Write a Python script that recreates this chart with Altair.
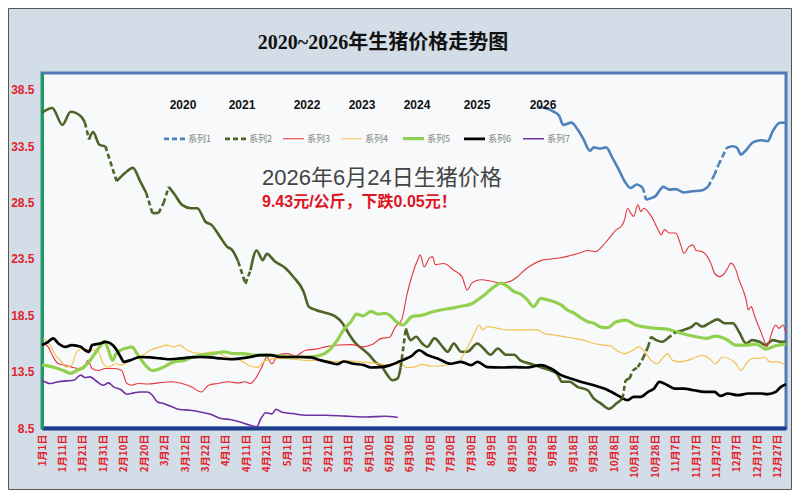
import json
import altair as alt
import pandas as pd

# ---------------- data ----------------
series_names = ["系列1", "系列2", "系列3", "系列4", "系列5", "系列6", "系列7"]
year_labels = ["2020", "2021", "2022", "2023", "2024", "2025", "2026"]
tick_labels = ["1月1日", "1月11日", "1月21日", "1月31日", "2月10日", "2月20日", "3月2日",
               "3月12日", "3月22日", "4月1日", "4月11日", "4月21日", "5月1日", "5月11日",
               "5月21日", "5月31日", "6月10日", "6月20日", "6月30日", "7月10日", "7月20日",
               "7月30日", "8月9日", "8月19日", "8月29日", "9月8日", "9月18日", "9月28日",
               "10月8日", "10月18日", "10月28日", "11月7日", "11月17日", "11月27日",
               "12月7日", "12月17日", "12月27日"]
tick_days = list(range(0, 361, 10))
y_ticks = [8.5, 13.5, 18.5, 23.5, 28.5, 33.5, 38.5]

# 系列1 (2020)
s1_day = [243, 250, 253, 255, 259, 262, 265, 268, 270, 273, 276, 279, 282, 285, 288, 291, 294,
          295.5, 298, 300, 304, 307, 310, 314, 318, 323, 326, 329, 331, 333, 335, 338, 340, 342,
          344, 348, 352, 355, 357.5, 361, 364]
s1_val = [37.0, 36.6, 36.2, 35.4, 35.6, 35.0, 34.1, 33.1, 33.4, 33.3, 33.4, 32.5, 31.5, 30.4,
          29.8, 30.1, 29.8, 28.75, 28.9, 29.05, 29.9, 29.65, 29.7, 29.4, 29.5, 29.6, 29.94, 30.98,
          31.87, 32.6, 33.36, 33.5, 33.36, 32.76, 33.06, 33.86, 34.03, 33.95, 34.83, 35.58, 35.6]
s1_gap_starts = [294, 326, 329, 331, 333]

# 系列2 (2021)
s2_day = [0, 5, 10, 14, 19, 21, 23, 25, 28, 31, 36.5, 40.5, 44.5, 48, 51, 54, 57, 59.5, 62, 65,
          68.5, 73, 76, 80, 83, 87, 90.5, 93, 96, 99.5, 102, 105, 108, 110, 114, 119, 123, 128,
          130.5, 134, 139, 143.5, 147, 150, 153.5, 156.5, 160, 163, 166.5, 169, 171.5, 174, 175.5,
          178, 180.5, 183, 186, 188.5, 192, 196, 198.5, 201.5, 205, 208, 213, 216, 219.5, 223, 227,
          231, 234, 239, 244, 249, 252, 254.5, 258, 262, 267, 270, 273.5, 277.5, 281, 284, 285.5,
          287.5, 289, 291.5, 294, 296.5, 298, 300.5, 303.5, 306, 310, 314, 318, 320, 323, 326.5,
          330.5, 334, 338, 341, 344.5, 347.5, 351, 354, 357.5, 361.5, 364]
s2_val = [36.47, 36.9, 35.4, 36.56, 36.17, 35.6, 34.1, 34.75, 33.65, 33.5,
          30.4, 31.1, 31.58, 30.4, 29.35, 27.57, 27.57, 28.46, 29.9, 29.2,
          28.3, 28.0, 28.0, 26.8, 26.5, 25.5, 24.6, 24.3, 23.27, 21.3,
          22.5, 24.25, 23.4, 23.95, 23.27, 22.7, 21.9, 20.6, 19.27, 18.97,
          18.7, 18.4, 17.8, 16.9, 16.0, 15.56, 15.0, 14.37, 13.9, 13.19,
          12.74, 12.9, 13.9, 17.34, 16.3, 16.6, 16.0, 15.7, 16.45, 15.7,
          15.26, 16.0, 15.26, 15.26, 16.0, 15.56, 15.0, 15.56, 15.0, 15.0,
          14.5, 14.2, 13.9, 13.6, 13.3, 12.6, 12.6, 12.15, 11.85, 11.1,
          10.67, 10.2, 10.67, 11.1, 12.74, 12.9, 13.6, 13.9, 14.67, 15.7,
          16.6, 16.3, 16.15, 16.45, 17.0, 17.2, 17.5, 17.8, 17.5, 17.8,
          18.14, 17.8, 17.8, 17.04, 16.0, 16.3, 16.15, 15.86, 16.3, 16.15,
          16.15]
s2_gap_starts = [21, 31, 51, 57, 59.5, 96, 99.5, 175.5, 284, 285.5, 287.5, 289, 291.5, 294,
                 296.5, 306]

# 系列3 (2022)
s3_day = [0.5, 3, 5.5, 8, 11, 14.5, 18, 21, 22.5, 24.5, 27.5, 31, 35.5, 39, 41.5, 44, 47, 52,
          57, 63.5, 68.5, 73, 78, 81.5, 86, 91, 96, 99.5, 102, 105, 107.5, 110, 112.5, 115.5, 120,
          124, 129, 134, 138.5, 145, 151.5, 156.5, 161.5, 166, 170, 173, 176, 178.5, 181.5, 184,
          185, 187, 189.5, 191, 192.5, 196.5, 201.5, 205.5, 208, 210.5, 214.5, 219.5, 224.5,
          229.5, 232.5, 236, 239, 244, 249, 254, 258.5, 263.5, 267, 271, 274, 277.5, 281, 283.5,
          285, 286.5, 288, 289.5, 291.5, 293, 294.5, 297, 299.5, 301, 303, 304.5, 307, 310,
          312.5, 314, 316.5, 318.5, 320, 323, 325.5, 327.5, 329, 331.5, 334, 335.5, 337, 339.5,
          341, 343, 344.5, 345.5, 347, 348.5, 350, 352, 353.5, 354.5, 356, 357.5, 359, 360.5,
          362.5, 364]
s3_val = [16.0, 15.7, 14.8, 14.2, 14.08, 13.9, 13.78, 14.08, 14.5, 13.78,
          13.6, 13.78, 13.78, 13.6, 12.45, 12.3, 12.45, 12.4, 12.5, 12.6,
          12.45, 12.15, 11.7, 12.3, 12.45, 12.6, 12.5, 12.6, 12.45, 13.04,
          13.9, 14.8, 14.2, 15.0, 15.1, 14.9, 15.4, 15.5, 15.7, 15.86,
          15.9, 15.7, 15.9, 16.45, 16.55, 17.5, 18.1, 20.3, 22.3, 23.5,
          23.86, 22.8, 23.57, 23.71, 23.0, 23.1, 22.5, 21.93, 20.75, 21.4,
          21.65, 21.55, 21.35, 21.55, 21.9, 22.5, 22.9, 23.35, 23.5, 23.6,
          23.8, 24.05, 24.25, 24.15, 24.6, 25.35, 26.1, 26.4, 26.98, 28.0,
          27.57, 27.27, 28.3, 27.7, 28.0, 27.57, 26.83, 26.24, 25.64, 26.1,
          25.8, 25.8, 24.75, 24.0, 24.6, 24.75, 24.25, 24.15, 23.71, 23.0,
          22.24, 21.93, 22.24, 22.68, 23.13, 22.53, 21.64, 20.75, 19.86, 18.97,
          19.27, 18.53, 17.79, 16.9, 16.15, 15.7, 16.3, 17.2, 17.64, 17.34,
          17.64, 16.9]

# 系列4 (2023)
s4_day = [0.5, 4, 6.5, 9, 12, 14.5, 17, 20.5, 23.5, 27, 30, 32.5, 36, 39, 43, 48, 53, 58, 61,
          64.5, 67.5, 71, 77.5, 84, 90.5, 97, 102, 105.5, 109.5, 116.5, 123, 130, 136.5, 143,
          149.5, 156, 162.5, 169, 175.5, 178.5, 182, 186, 190, 195, 200, 204, 206.5, 210, 212,
          214, 215.5, 218, 223, 227.5, 235, 242.5, 245.5, 250.5, 255.5, 260.5, 265, 270, 275,
          278.5, 281, 285, 289, 292, 295.5, 298, 301, 303.5, 306, 308.5, 312, 316, 320, 323,
          326.5, 329.5, 333, 336, 339.5, 342, 344.5, 347.5, 351, 353.5, 356, 360, 363.5]
s4_val = [16.45, 15.86, 15.0, 14.5, 13.9, 14.08, 15.26, 15.56, 15.4, 15.4,
          14.2, 13.9, 14.2, 14.08, 14.5, 14.8, 15.4, 15.7, 15.86, 15.7,
          15.86, 15.4, 15.1, 15.26, 14.8, 14.5, 14.0, 13.9, 14.5, 14.67,
          14.6, 14.5, 14.5, 14.4, 14.45, 14.37, 14.25, 14.1, 14.2, 13.87,
          13.9, 14.15, 14.0, 14.0, 14.2, 14.4, 15.1, 16.3, 17.1, 17.64,
          17.2, 17.49, 17.34, 17.2, 17.2, 17.2, 16.9, 16.75, 16.6, 16.45,
          16.3, 16.0, 15.86, 15.75, 15.4, 15.1, 15.4, 15.7, 15.1, 14.5,
          14.2, 14.67, 15.1, 14.5, 14.37, 14.5, 14.8, 14.95, 14.67, 14.2,
          14.8, 14.67, 14.2, 13.6, 14.2, 14.67, 14.67, 14.8, 14.37, 14.37,
          14.08]

# 系列5 (2024)
s5_day = [0, 5.5, 10.5, 14, 17, 20.5, 23.5, 27, 29.5, 30.5, 32.5, 34.5, 36, 38.5, 41.5, 44,
          46.5, 50, 54, 59.5, 64.5, 69.5, 74, 79, 84, 89, 94, 98.5, 103.5, 110, 116.5, 123, 130,
          136.5, 140.5, 144.5, 147.5, 151, 154, 157, 161, 164.5, 168, 170.5, 173.5, 176.5, 181,
          186, 190, 195, 200, 205, 210, 213, 217, 221, 224.5, 227.5, 231, 234, 237.5, 240.5, 244,
          247.5, 250.5, 254, 257, 260.5, 263.5, 267, 270, 273.5, 276.5, 281, 285.5, 290.5, 295.5,
          300.5, 305, 310, 315, 320, 325, 329.5, 334.5, 339.5, 344.5, 349.5, 354, 359, 364]
s5_val = [14.1, 13.9, 13.6, 13.35, 13.6, 13.9, 14.5, 15.4, 16.0, 16.2,
          15.4, 14.5, 15.0, 15.4, 15.6, 15.7, 15.1, 14.2, 13.6, 13.9,
          14.37, 14.5, 14.8, 15.0, 15.1, 15.26, 15.1, 15.1, 14.97, 14.97,
          14.88, 14.8, 14.8, 14.97, 15.4, 16.3, 17.2, 17.9, 18.6, 18.45,
          18.85, 18.6, 18.68, 18.45, 17.9, 17.64, 18.38, 18.5, 18.75, 18.97,
          19.12, 19.3, 19.5, 19.86, 20.4, 21.0, 21.35, 21.1, 20.6, 20.4,
          19.86, 19.27, 20.0, 19.86, 19.71, 19.42, 18.97, 18.68, 18.3, 17.93,
          17.79, 17.45, 17.4, 17.93, 18.08, 17.64, 17.45, 17.34, 17.3, 17.04,
          16.8, 16.6, 16.45, 16.65, 16.4, 15.86, 15.86, 15.95, 15.5, 15.8,
          15.95]

# 系列6 (2025)
s6_day = [0, 3, 5.5, 8, 11.5, 14.5, 19, 21, 23, 24.5, 28.5, 31, 33.5, 36, 38.5, 40, 43, 48, 53,
          58, 63, 67.5, 72.5, 77.5, 82.5, 87.5, 92, 97, 102, 107, 112, 116.5, 121.5, 126.5,
          131.5, 136.5, 141, 144.5, 147.5, 152.5, 157.5, 161, 165.5, 170.5, 174.5, 178, 180.5,
          184.5, 188.5, 193.5, 200, 205, 210, 213, 218, 224.5, 231, 237.5, 244, 249, 254, 258.5,
          263.5, 270, 275, 280, 283, 286.5, 289.5, 293, 296.5, 299.5, 302, 306, 309.5, 314, 319,
          324, 329, 332, 335.5, 340.5, 345.5, 352, 355, 359, 361.5, 364]
s6_val = [15.86, 16.15, 16.45, 16.0, 15.7, 15.86, 15.7, 15.4, 15.26, 15.86,
          16.0, 16.15, 16.0, 15.56, 14.8, 14.37, 14.5, 14.8, 14.76, 14.67,
          14.6, 14.67, 14.76, 14.8, 14.76, 14.67, 14.6, 14.67, 14.8, 14.97,
          14.97, 14.8, 14.8, 14.8, 14.76, 14.5, 14.3, 14.17, 14.4, 14.2,
          14.08, 13.87, 13.9, 14.08, 14.37, 14.65, 14.85, 15.4, 14.97, 14.67,
          14.2, 14.37, 14.08, 14.37, 13.9, 13.87, 13.9, 13.87, 14.08, 13.78,
          13.19, 12.9, 12.6, 12.3, 12.0, 11.56, 11.26, 10.97, 11.26, 11.26,
          11.7, 12.0, 12.6, 12.3, 12.0, 12.0, 11.85, 11.7, 11.7, 11.35,
          11.56, 11.41, 11.56, 11.56, 11.5, 11.7, 12.15, 12.39]

# 系列7 (2026)
s7_day = [0, 4, 8, 12, 15.5, 19, 21, 23.5, 27, 30, 32.5, 35, 38.5, 41.5, 45, 48, 51.5, 54, 56.5,
          59.5, 63, 67.5, 72.5, 77.5, 82.5, 87.5, 92, 97, 102, 105, 107, 109.5, 112.5, 114.5,
          117.5, 122.5, 129, 138.5, 148.5, 158.5, 168, 172, 174]
s7_val = [12.74, 12.45, 12.6, 12.68, 12.74, 13.19, 12.98, 13.04, 12.6, 12.3,
          12.5, 12.15, 11.92, 11.5, 11.62, 11.7, 11.7, 11.41, 10.81, 10.67,
          10.43, 10.14, 10.08, 9.92, 9.72, 9.34, 9.25, 9.03, 8.74, 8.6,
          9.3, 9.85, 9.75, 10.15, 9.9, 9.78, 9.63, 9.63, 9.55, 9.48,
          9.54, 9.5, 9.43]

title_text = "2020~2026年生猪价格走势图"
note_text = "2026年6月24日生猪价格"
price_text = "9.43元/公斤，下跌0.05元！"

# ---------------- styles ----------------
colors = ["#4f81bd", "#4f6228", "#e3363d", "#f3c24f", "#92d050", "#000000", "#7030a0"]
widths = [2.6, 2.6, 1.1, 1.2, 3.2, 2.7, 1.6]
dashes = [[5, 3], [5, 3], [1, 0], [1, 0], [1, 0], [1, 0], [1, 0]]
red = "#e2222b"


def build(name, days, vals, gap_starts=()):
    solid, dashed = [], []
    seg = 0
    gs = set(gap_starts)
    for i, (d, v) in enumerate(zip(days, vals)):
        solid.append({"series": name, "seg": f"{name}-{seg}", "day": d, "value": v})
        if d in gs and i + 1 < len(days):
            gid = f"{name}-g{i}"
            dashed.append({"series": name, "seg": gid, "day": d, "value": v})
            dashed.append({"series": name, "seg": gid, "day": days[i + 1], "value": vals[i + 1]})
            seg += 1
    return solid, dashed


all_series = [
    (s1_day, s1_val, s1_gap_starts),
    (s2_day, s2_val, s2_gap_starts),
    (s3_day, s3_val, ()),
    (s4_day, s4_val, ()),
    (s5_day, s5_val, ()),
    (s6_day, s6_val, ()),
    (s7_day, s7_val, ()),
]
solid_rows, dashed_rows = [], []
for name, (d, v, g) in zip(series_names, all_series):
    s, dd = build(name, d, v, g)
    solid_rows += s
    dashed_rows += dd
solid_df = pd.DataFrame(solid_rows)
dashed_df = pd.DataFrame(dashed_rows)

labels_js = json.dumps(tick_labels, ensure_ascii=False)

legend = alt.Legend(
    orient="none", legendX=120, legendY=53, direction="horizontal", columns=7,
    title=None, symbolType="stroke", symbolSize=441, labelFont="Noto Sans CJK SC",
    labelFontSize=9, labelColor="#7f7f7f", labelOffset=1, columnPadding=8, padding=0,
)

x_enc = alt.X(
    "day:Q",
    scale=alt.Scale(domain=[0, 364], nice=False, zero=False),
    axis=alt.Axis(
        values=tick_days, labelExpr=f"{labels_js}[round(datum.value / 10)]",
        labelAngle=270, labelColor=red, labelFontSize=10, labelFont="Noto Sans CJK SC",
        labelFontWeight="bold", ticks=False, grid=False, domainColor="#1c3c8c",
        domainWidth=4, title=None, labelPadding=6, labelOverlap=False, labelFlush=False,
        labelBound=False,
    ),
)
y_enc = alt.Y(
    "value:Q",
    scale=alt.Scale(domain=[8.5, 40], nice=False, zero=False),
    axis=alt.Axis(
        values=y_ticks, format=".1f", labelColor=red, labelFontSize=12,
        labelFont="Liberation Sans", labelFontWeight="bold", ticks=False, grid=False,
        domainColor="#1aa05a", domainWidth=3, title=None, labelPadding=8,
    ),
)
color_enc = alt.Color("series:N", scale=alt.Scale(domain=series_names, range=colors), legend=legend)
width_enc = alt.StrokeWidth(
    "series:N", scale=alt.Scale(type="ordinal", domain=series_names, range=widths), legend=legend
)
dash_enc = alt.StrokeDash("series:N", scale=alt.Scale(domain=series_names, range=dashes), legend=legend)

solid_layer = alt.Chart(solid_df).mark_line(interpolate="monotone").encode(
    x=x_enc, y=y_enc, color=color_enc, strokeWidth=width_enc, detail="seg:N"
)
dashed_layer = alt.Chart(dashed_df).mark_line().encode(
    x=x_enc, y=y_enc, color=color_enc, strokeWidth=width_enc, strokeDash=dash_enc, detail="seg:N"
)


def text_layer(txt, x, y, **kw):
    return alt.Chart(alt.Data(values=[{}])).mark_text(text=txt, **kw).encode(
        x=alt.value(x), y=alt.value(y)
    )


year_x = [141, 200, 265, 320, 375, 435, 501]
texts = [
    text_layer(yl, xx, 32, font="Liberation Sans", fontSize=12, fontWeight="bold",
               color="#111111", align="center", baseline="middle")
    for yl, xx in zip(year_labels, year_x)
]
texts.append(text_layer(title_text, 341, -30, font="Liberation Serif, Noto Sans CJK SC",
                        fontSize=20, fontWeight="bold", color="#111111", align="center",
                        baseline="middle"))
texts.append(text_layer(note_text, 220, 105, font="Liberation Sans, Noto Sans CJK SC",
                        fontSize=22, color="#444444", align="left", baseline="middle"))
texts.append(text_layer(price_text, 220, 129, font="Liberation Sans, Noto Sans CJK SC",
                        fontSize=16, fontWeight="bold", color="#e0141e", align="left",
                        baseline="middle"))

frame = alt.Chart(alt.Data(values=[{}])).mark_rect(
    fill="transparent", stroke="#555555", strokeWidth=1
).encode(x=alt.value(-33.5), x2=alt.value(749.5), y=alt.value(-64.5), y2=alt.value(416.5))

chart = alt.layer(solid_layer, dashed_layer, *texts, frame).properties(
    width=744, height=355,
    autosize=alt.AutoSizeParams(type="none"),
    padding={"left": 34, "top": 65, "right": 6, "bottom": 62},
).configure(
    background="#d3dde7",
).configure_view(
    fill="#f7f9fb", stroke="#4f7ab3", strokeWidth=3,
)

chart.save("out.html", embed_options={"renderer": "svg", "actions": False})
